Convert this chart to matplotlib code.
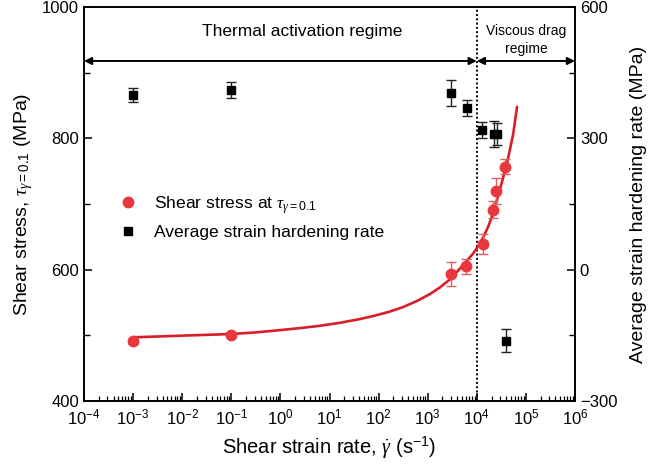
import matplotlib
matplotlib.use("Agg")
import matplotlib.pyplot as plt
from matplotlib.lines import Line2D
from matplotlib.ticker import FixedLocator, MultipleLocator, NullFormatter

plt.rcParams['font.family'] = ['Liberation Sans', 'DejaVu Sans']
plt.rcParams['mathtext.fontset'] = 'custom'
plt.rcParams['mathtext.rm'] = 'Liberation Sans'
plt.rcParams['mathtext.it'] = 'Liberation Serif:italic'
plt.rcParams['mathtext.bf'] = 'Liberation Sans:bold'

# Shear stress at gamma = 0.1 (left axis)
stress_rate = [1e-3, 1e-1, 3.0e3, 6.0e3, 1.35e4, 2.1e4, 2.5e4, 3.8e4]
stress = [491, 501, 593, 605, 639, 691, 720, 757]
stress_err = [4, 4, 18, 11, 15, 13, 20, 11]

# Fitted shear-stress curve
fit_rate = [1e-3, 1e-2, 1e-1, 0.32, 1.0, 2.5, 6.3, 16, 40, 79, 158, 316,
            630, 1.12e3, 1.78e3, 2.82e3, 3.98e3, 6.03e3, 8.5e3, 1.07e4,
            1.35e4, 1.74e4, 2.19e4, 2.95e4, 4.07e4, 5.5e4, 6.6e4]
fit_stress = [497, 499.5, 502, 504.5, 508, 511, 514.5, 519, 524.5, 529.5,
              535.5, 543, 553, 563, 573, 585, 597, 612, 625, 636,
              649, 667, 688, 722, 760, 806, 848]

# Average strain hardening rate (right axis)
hard_rate = [1e-3, 1e-1, 2.95e3, 6.2e3, 1.3e4, 2.2e4, 2.6e4, 3.85e4]
hardening = [398, 410, 404, 369, 319, 310, 310, -162]
hard_err = [16, 19, 30, 19, 18, 30, 25, 27]

x_ticks = [1e-4, 1e-3, 1e-2, 1e-1, 1e0, 1e1, 1e2, 1e3, 1e4, 1e5, 1e6]
boundary_rate = 1e4

RED = '#e8383d'
LINE_RED = '#d81e28'

fig = plt.figure(figsize=(6.54, 4.72), dpi=100)
ax = fig.add_axes([84 / 654, 1 - 401 / 472, 491 / 654, 394 / 472])
ax2 = ax.twinx()

ax.set_xscale('log')
ax.set_xlim(1e-4, 1e6)
ax.set_ylim(400, 1000)
ax2.set_ylim(-300, 600)

ax.plot(fit_rate, fit_stress, color=LINE_RED, lw=1.9, zorder=3,
        solid_joinstyle='round', solid_capstyle='round')
ax.errorbar(stress_rate, stress, yerr=stress_err, fmt='o', color=RED,
            ms=7.5, ecolor='#e0605f', elinewidth=1.0, capsize=3.5,
            capthick=1.0, zorder=4)
ax2.errorbar(hard_rate, hardening, yerr=hard_err, fmt='s', color='black',
             ms=6, ecolor='#222222', elinewidth=1.0, capsize=3.5,
             capthick=1.0, zorder=4)

# x axis: every decade labelled, 2..9 minor ticks
ax.set_xticks(x_ticks)
minor_x = [m * d for d in x_ticks[:-1] for m in range(2, 10)]
ax.xaxis.set_minor_locator(FixedLocator(minor_x))
ax.xaxis.set_minor_formatter(NullFormatter())
ax.tick_params(axis='x', which='major', direction='in', length=6,
               width=1.1, labelsize=12, pad=5, top=False)
ax.tick_params(axis='x', which='minor', direction='in', length=3.5,
               width=0.9, top=False)

ax.yaxis.set_major_locator(MultipleLocator(200))
ax.yaxis.set_minor_locator(MultipleLocator(100))
ax2.yaxis.set_major_locator(MultipleLocator(300))
ax2.yaxis.set_minor_locator(MultipleLocator(150))
ax.tick_params(axis='y', which='major', direction='in', length=6,
               width=1.1, labelsize=12, right=False)
ax.tick_params(axis='y', which='minor', direction='in', length=4,
               width=1.0, right=False)
ax2.tick_params(axis='y', which='major', direction='in', length=6,
                width=1.1, labelsize=12, left=False)
ax2.tick_params(axis='y', which='minor', direction='in', length=4,
                width=1.0, left=False)

for a in (ax, ax2):
    for sp in a.spines.values():
        sp.set_linewidth(1.2)

ax.set_xlabel(r'Shear strain rate, $\dot{\gamma}$ (s$^{-1}$)', fontsize=14.5,
              labelpad=5)
ax.set_ylabel(r'Shear stress, $\tau_{\gamma=0.1}$ (MPa)', fontsize=14,
              labelpad=5)
ax2.set_ylabel('Average strain hardening rate (MPa)', fontsize=14,
               labelpad=9)

# regime boundary and regime arrows
ax.axvline(boundary_rate, color='black', ls=(0, (1, 1.2)), lw=1.4, zorder=2)
arrow_y = 0.863
arrow_kw = dict(arrowstyle='<|-|>', color='black', lw=1.4,
                mutation_scale=11, shrinkA=0, shrinkB=0)
ax.annotate('', xy=(boundary_rate, arrow_y), xytext=(1e-4, arrow_y),
            xycoords=('data', 'axes fraction'),
            textcoords=('data', 'axes fraction'), arrowprops=arrow_kw)
ax.annotate('', xy=(1e6, arrow_y), xytext=(boundary_rate, arrow_y),
            xycoords=('data', 'axes fraction'),
            textcoords=('data', 'axes fraction'), arrowprops=arrow_kw)
ax.text(0.444, 0.937, 'Thermal activation regime', transform=ax.transAxes,
        ha='center', va='center', fontsize=12.5)
ax.text(0.900, 0.916, 'Viscous drag\nregime', transform=ax.transAxes,
        ha='center', va='center', fontsize=10, linespacing=1.3)

handles = [
    Line2D([], [], ls='none', marker='o', color=RED, ms=7.5),
    Line2D([], [], ls='none', marker='s', color='black', ms=6),
]
labels = [r'Shear stress at $\tau_{\gamma=0.1}$', 'Average strain hardening rate']
ax.legend(handles, labels, loc='upper left', bbox_to_anchor=(0.072, 0.525),
          frameon=False, fontsize=12.6, handlelength=1.0, handletextpad=1.0,
          labelspacing=0.5, borderpad=0, borderaxespad=0)

fig.savefig('out.png', dpi=100)
